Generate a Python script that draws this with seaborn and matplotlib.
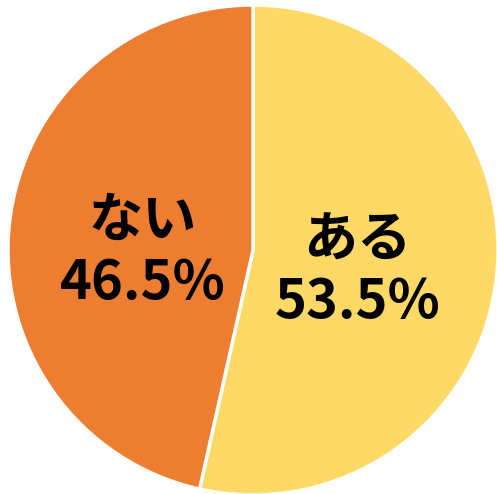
import matplotlib
matplotlib.use('Agg')
import matplotlib.pyplot as plt
import seaborn as sns

# Data
labels = ['ある', 'ない']
values = [53.5, 46.5]
colors = ['#FFD966', '#ED7D31']

sns.set_theme(style='white')
plt.rcParams['font.family'] = ['Noto Sans CJK JP', 'DejaVu Sans']

fig = plt.figure(figsize=(4.97, 4.94), dpi=100)
ax = fig.add_axes([0, 0, 1, 1])

wedges, _ = ax.pie(values, colors=colors, startangle=90, counterclock=False,
                   radius=1.0, wedgeprops=dict(edgecolor='white', linewidth=2.5))

# label positions (data coords)
label_pos = [(0.426, -0.09), (-0.45, -0.01)]
for (x, y), lab, v in zip(label_pos, labels, values):
    ax.text(x, y, f'{lab}\n{v:.1f}%', ha='center', va='center', fontsize=39,
            fontweight='bold', color='black', linespacing=1.15)

ax.set_xlim(-253 / 245, 244 / 245)
ax.set_ylim(-244 / 245, 250 / 245)
ax.set_aspect('auto')
ax.axis('off')

fig.savefig('out.png', dpi=100)
